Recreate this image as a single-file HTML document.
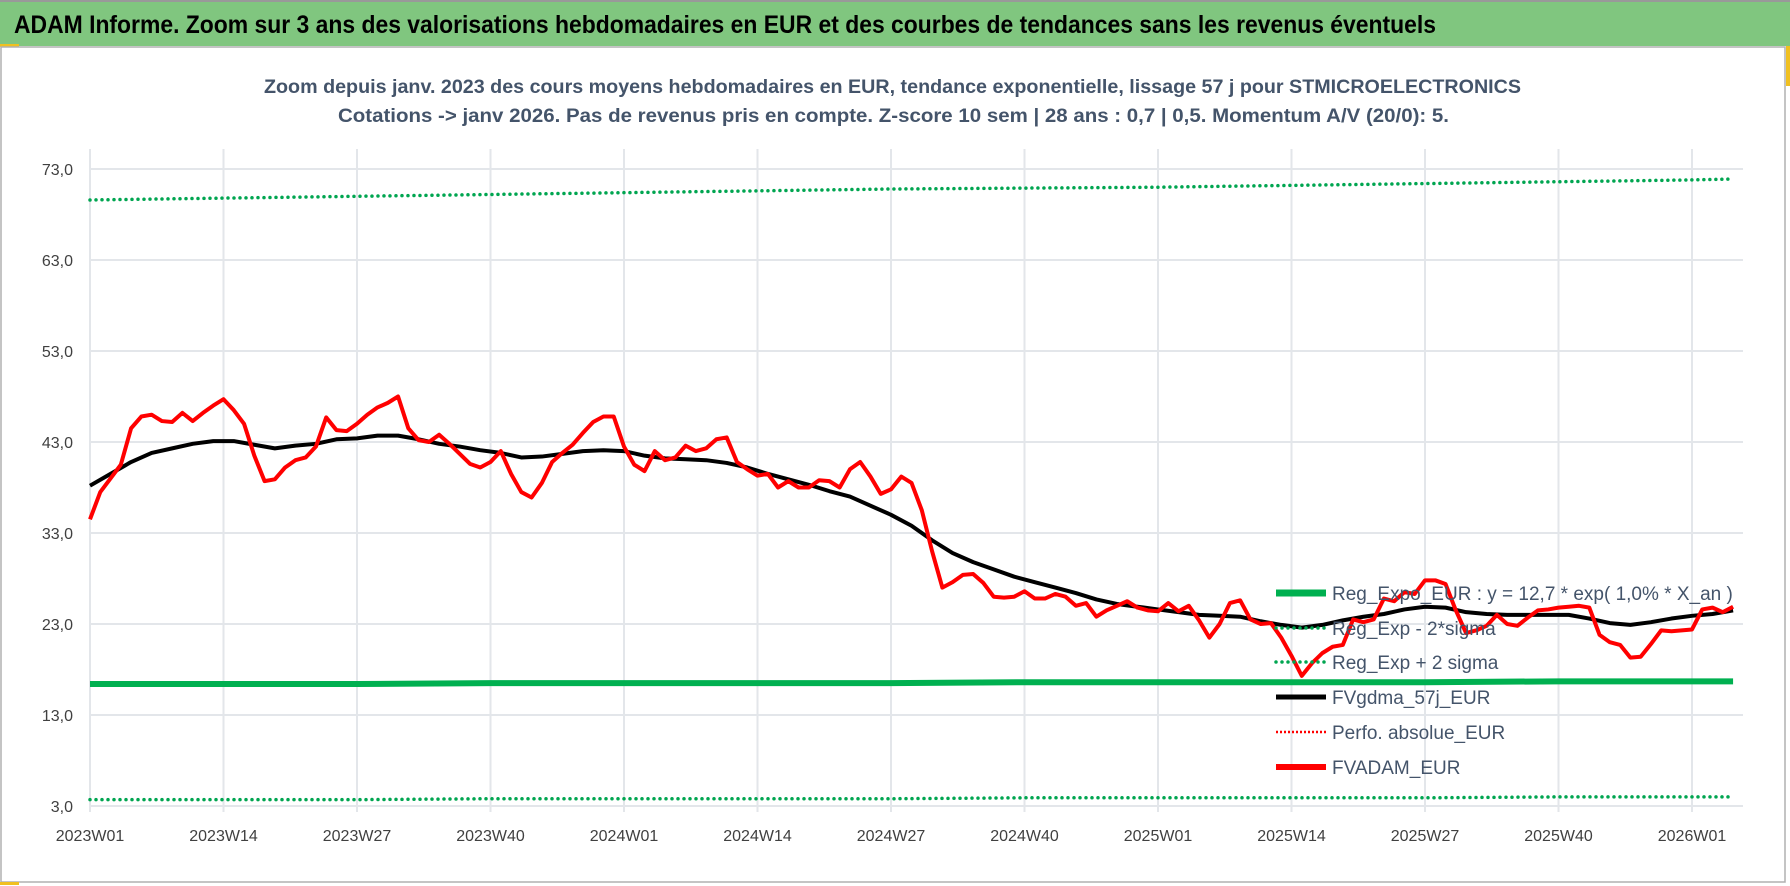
<!DOCTYPE html>
<html><head><meta charset="utf-8">
<style>
html,body{margin:0;padding:0;background:#fff;}
svg{display:block;}
text{font-family:"Liberation Sans Narrow","Liberation Sans",sans-serif;}
</style></head>
<body>
<svg id="chart" width="1790" height="886" viewBox="0 0 1790 886" xmlns="http://www.w3.org/2000/svg">
  <rect x="0" y="0" width="1790" height="886" fill="#fff"/>
  <rect x="0" y="2" width="1790" height="44" fill="#80c67f"/>
  <line x1="0" y1="1" x2="1790" y2="1" stroke="#999" stroke-width="2"/>
  <rect x="0" y="44" width="19" height="3" fill="#f0c020"/>
  <rect x="1786" y="46" width="4" height="40" fill="#f0c020"/>
  <text x="14" y="33" font-size="25" font-weight="bold" fill="#000" textLength="1422" lengthAdjust="spacingAndGlyphs">ADAM Informe. Zoom sur 3 ans des valorisations hebdomadaires en EUR et des courbes de tendances sans les revenus éventuels</text>
  <rect x="1" y="47" width="1784" height="835" fill="none" stroke="#b0b0b0" stroke-width="1.5"/>
  <rect x="0" y="882" width="19" height="3" fill="#f0c020"/>
  <text x="264" y="93" font-size="19" font-weight="bold" fill="#44546a" textLength="1257" lengthAdjust="spacingAndGlyphs">Zoom depuis janv. 2023 des cours moyens hebdomadaires en EUR, tendance exponentielle, lissage 57 j pour STMICROELECTRONICS</text>
  <text x="338" y="122" font-size="19" font-weight="bold" fill="#44546a" textLength="1111" lengthAdjust="spacingAndGlyphs">Cotations -&gt; janv 2026. Pas de revenus pris en compte. Z-score 10 sem | 28 ans : 0,7 | 0,5. Momentum A/V (20/0): 5.</text>
  <g id="grid"></g>
  <g id="series"></g>
  <g id="legend"></g>
</svg>
<script>
const xLabels = ["2023W01","2023W14","2023W27","2023W40","2024W01","2024W14","2024W27","2024W40","2025W01","2025W14","2025W27","2025W40","2026W01"];
const yTicks = [3,13,23,33,43,53,63,73];
const fvadam = [34.5,37.5,39,40.5,44.5,45.8,46,45.3,45.2,46.2,45.3,46.2,47,47.7,46.5,45,41.5,38.7,38.9,40.2,
41,41.3,42.5,45.7,44.3,44.2,45,46,46.8,47.3,48,44.5,43.2,43,43.8,42.8,41.7,40.6,40.2,40.8,
42,39.5,37.5,36.9,38.5,40.8,41.8,42.7,44,45.2,45.8,45.8,42.5,40.5,39.8,42,41,41.3,42.6,42,
42.3,43.3,43.5,40.8,40,39.3,39.5,38,38.7,38,38,38.8,38.7,38,40,40.8,39.2,37.3,37.8,39.2,
38.5,35.5,31,27,27.6,28.4,28.5,27.5,26,25.9,26,26.6,25.8,25.8,26.3,26,25,25.3,23.8,24.5,
25,25.5,24.8,24.5,24.4,25.3,24.4,25,23.4,21.5,23,25.3,25.6,23.5,23,23.1,21.5,19.5,17.3,18.7,
19.8,20.5,20.7,23.5,23.2,23.5,25.8,25.5,26.5,26.3,27.8,27.8,27.4,24.5,22,22.3,22.8,24,23,22.8,
23.7,24.5,24.6,24.8,24.9,25,24.8,21.8,21,20.7,19.3,19.4,20.8,22.3,22.2,22.3,22.4,24.6,24.8,24.3,24.9];
// FVgdma sampled every 2 weeks
const fvgdma = [38.2,39.5,40.8,41.8,42.3,42.8,43.1,43.1,42.7,42.3,42.6,42.8,43.3,43.4,43.7,43.7,43.3,42.8,42.5,42.1,
41.8,41.3,41.4,41.7,42,42.1,42,41.5,41.2,41.1,41,40.7,40.2,39.5,38.9,38.3,37.6,37,36,35,
33.8,32.2,30.8,29.8,29,28.2,27.6,27,26.4,25.7,25.2,24.9,24.6,24.3,24,23.9,23.8,23.3,22.9,22.6,
22.9,23.4,23.8,24.1,24.6,24.9,24.8,24.3,24.1,24,24,24,24,23.6,23.1,22.9,23.2,23.6,23.9,24.1,24.5];
// trend lines sampled every 13 weeks (plus last week)
const regExpo = [16.4,16.4,16.4,16.5,16.5,16.5,16.5,16.6,16.6,16.6,16.6,16.7,16.7,16.7];
const regPlus = [69.6,69.8,70.0,70.2,70.4,70.6,70.8,70.9,71.0,71.2,71.4,71.6,71.8,71.9];
const regMinus = [3.7,3.7,3.7,3.8,3.8,3.8,3.8,3.9,3.9,3.9,3.9,4.0,4.0,4.0];
const legendLabels = ["Reg_Expo_EUR : y = 12,7 * exp( 1,0% *  X_an )","Reg_Exp - 2*sigma","Reg_Exp + 2 sigma","FVgdma_57j_EUR","Perfo. absolue_EUR","FVADAM_EUR"];

const NS="http://www.w3.org/2000/svg";
const X0=90, WK=(1692-90)/156, Y73=169, Y3=806;
function xs(w){return X0+w*WK;}
function ys(v){return Y3-(v-3)*(Y3-Y73)/70;}
function mk(tag,attrs,parent){const e=document.createElementNS(NS,tag);for(const k in attrs)e.setAttribute(k,attrs[k]);parent.appendChild(e);return e;}
const grid=document.getElementById('grid'), ser=document.getElementById('series'), leg=document.getElementById('legend');

yTicks.forEach(v=>{
  const l=mk('line',{x1:X0,x2:1743,y1:ys(v),y2:ys(v),stroke:'#e3e6ea','stroke-width':2},grid);
  
  
  const t=mk('text',{x:73,y:ys(v)+6,'text-anchor':'end','font-size':16,fill:'#404040'},grid);
  t.textContent=v.toFixed(1).replace('.',',');
  
  
});
xLabels.forEach((lab,i)=>{
  const x=xs(i*13);
  const l=mk('line',{x1:x,x2:x,y1:ys(73)-20,y2:Y3+6,stroke:'#e3e6ea','stroke-width':2},grid);
  
  
  const t=mk('text',{x:x,y:841,'text-anchor':'middle','font-size':16,fill:'#404040'},grid);
  t.textContent=lab;
  
  
});
function trendPts(arr){return arr.map((v,i)=>{const w=i<13?i*13:160;return xs(w)+','+ys(v);}).join(' ');}
let p;
p=mk('polyline',{points:trendPts(regPlus),fill:'none',stroke:'#00a550','stroke-width':3.5,'stroke-dasharray':'0 6','stroke-linecap':'round'},ser);


p=mk('polyline',{points:trendPts(regMinus),fill:'none',stroke:'#00a550','stroke-width':3.5,'stroke-dasharray':'0 6','stroke-linecap':'round'},ser);


p=mk('polyline',{points:trendPts(regExpo),fill:'none',stroke:'#00b050','stroke-width':6},ser);


p=mk('polyline',{points:fvgdma.map((v,i)=>xs(i*2)+','+ys(v)).join(' '),fill:'none',stroke:'#000','stroke-width':4,'stroke-linejoin':'round'},ser);


p=mk('polyline',{points:fvadam.map((v,i)=>xs(i)+','+ys(v)).join(' '),fill:'none',stroke:'#ff0000','stroke-width':4,'stroke-linejoin':'round'},ser);



const legStyles=[
 {stroke:'#00b050',w:7,dash:null},
 {stroke:'#00a550',w:3.5,dash:'0 6'},
 {stroke:'#00a550',w:3.5,dash:'0 6'},
 {stroke:'#000',w:5,dash:null},
 {stroke:'#ff0000',w:2.5,dash:'2 2'},
 {stroke:'#ff0000',w:6,dash:null}];
const legY=[593,628,662,697,732,767];
legendLabels.forEach((lab,i)=>{
  const s=legStyles[i];
  const a={x1:1276,x2:1326,y1:legY[i],y2:legY[i],stroke:s.stroke,'stroke-width':s.w};
  if(s.dash){a['stroke-dasharray']=s.dash;a['stroke-linecap']=s.dash==='0 6'?'round':'butt';}
  const l=mk('line',a,leg);
  
  
  const t=mk('text',{x:1332,y:legY[i]+7,'font-size':19,fill:'#44546a'},leg);
  t.textContent=lab;
  
  
});
</script>
</body></html>
